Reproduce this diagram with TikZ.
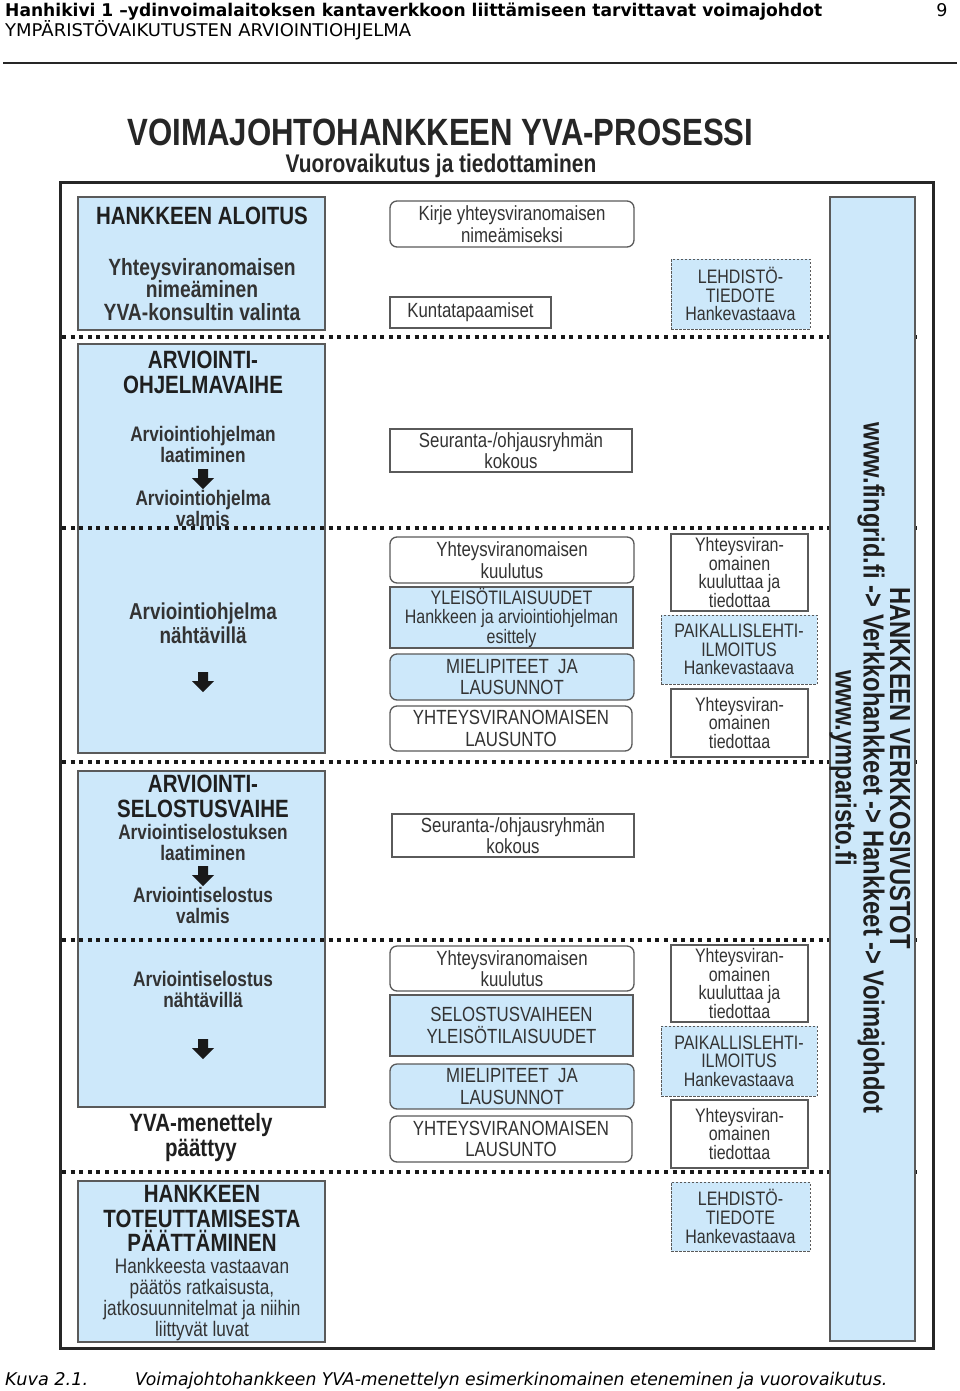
\documentclass[tikz,border=0pt]{standalone}
\usepackage{fontspec}
\usepackage{graphicx}
\setmainfont{Liberation Sans}
\newfontfamily\nar[FakeStretch=0.82]{Liberation Sans}
\newfontfamily\hdr{DejaVu Sans}
\newcommand\fs[2]{\fontsize{#1}{#2}\selectfont}
\definecolor{boxblue}{HTML}{CDE8FA}
\definecolor{edge}{HTML}{5A5A5A}
\definecolor{txt}{HTML}{333333}
\newcommand\dnarrow[2]{\fill[black!90] (#1-5,#2-10) -- (#1+5,#2-10) -- (#1+5,#2-1) -- (#1+11,#2-1) -- (#1,#2+10) -- (#1-11,#2-1) -- (#1-5,#2-1) -- cycle;}
\tikzset{
  lbox/.style={draw=edge, line width=1.2pt, fill=boxblue, minimum width=247pt, inner sep=0pt},
  lhead/.style={font=\nar\bfseries\fs{25}{25}, text=black!88, align=center, inner sep=0pt},
  lsub/.style={font=\nar\bfseries\fs{21}{21}, text=txt, align=center, inner sep=0pt},
  mbase/.style={draw=edge, line width=1.3pt, text=txt, align=center, inner sep=0pt, font=\nar\fs{20.5}{21.5}},
  mplain/.style={mbase, fill=white},
  mround/.style={mbase, fill=white, rounded corners=7pt},
  mblue/.style={mbase, fill=boxblue},
  mblueround/.style={mbase, fill=boxblue, rounded corners=7pt},
  rplain/.style={draw=edge, line width=1.3pt, fill=white, text=txt, align=center, inner sep=0pt, font=\nar\fs{19.5}{18.7}, minimum width=137pt},
  rdash/.style={draw=edge, line width=1pt, dash pattern=on 2.5pt off 1.5pt, fill=boxblue, text=txt, align=center, inner sep=0pt, font=\nar\fs{19.5}{18.7}},
  dotsep/.style={line width=4pt, dash pattern=on 4pt off 4.6pt, black!90}
}
\begin{document}
\begin{tikzpicture}[x=1pt,y=-1pt]
\useasboundingbox (0,0) rectangle (960,1391);
\fill[white] (0,0) rectangle (960,1391);
% page header
\node[anchor=base west, inner sep=0pt] (h1) at (5,17) {\resizebox{817pt}{\height}{\hdr\bfseries\fs{17.5}{17.5}Hanhikivi 1 –ydinvoimalaitoksen kantaverkkoon liittämiseen tarvittavat voimajohdot}};
\node[anchor=base west, inner sep=0pt] (h2) at (5,37) {\resizebox{406pt}{\height}{\hdr\fs{17.5}{17.5}YMPÄRISTÖVAIKUTUSTEN ARVIOINTIOHJELMA}};
\node[anchor=base, inner sep=0pt] (pg) at (942,17) {\hdr\fs{17.5}{17.5}9};
\draw[line width=2pt, black!85] (3,63) -- (957,63);
% title
\node[anchor=base, inner sep=0pt, font=\nar\bfseries\fs{38}{38}, text=black!85] (title) at (440.5,146) {VOIMAJOHTOHANKKEEN YVA-PROSESSI};
\node[anchor=base, inner sep=0pt, font=\nar\bfseries\fs{25.5}{25.5}, text=black!85] (subtitle) at (441,173) {Vuorovaikutus ja tiedottaminen};
% frame
\draw[line width=3pt, black!85] (60,183) rectangle (933,1348);
% left boxes
\node[lbox, minimum height=133pt] (lb1) at (201.5,263.5) {};
\node[lbox, minimum height=409pt] (lb2) at (201.5,548.5) {};
\node[lbox, minimum height=336pt] (lb3) at (201.5,939) {};
\node[lbox, minimum height=161pt] (lb4) at (201.5,1261.5) {};
% dotted separators (they cross the phase boxes)
\foreach \yy in {337,528,762,940,1172} \draw[dotsep] (62,\yy) -- (921,\yy);
% right column (on top of the separators)
\node[draw=edge, line width=1.2pt, fill=boxblue, minimum width=85pt, minimum height=1144pt, inner sep=0pt] (col) at (872.5,769) {};
\node[rotate=-90, font=\nar\bfseries\fs{29}{26.5}, align=center, text=black!88, inner sep=0pt] (web) at (870,768) {HANKKEEN VERKKOSIVUSTOT\\www.fingrid.fi -> Verkkohankkeet -> Hankkeet -> Voimajohdot\\www.ymparisto.fi};
% left texts
\node[lhead] (t1a) at (202,216) {HANKKEEN ALOITUS};
\node[lsub, font=\nar\bfseries\fs{23.5}{22.5}] (t1b) at (202,289.5) {Yhteysviranomaisen\\nimeäminen\\YVA-konsultin valinta};
\node[lhead] (t2a) at (203,372.5) {ARVIOINTI-\\OHJELMAVAIHE};
\node[lsub] (t2b) at (203,444.5) {Arviointiohjelman\\laatiminen};
\dnarrow{203}{479}
\node[lsub] (t2c) at (203,508.5) {Arviointiohjelma\\valmis};
\node[lsub, font=\nar\bfseries\fs{23}{24}] (t2d) at (203,623) {Arviointiohjelma\\nähtävillä};
\dnarrow{203}{682}
\node[lhead] (t3a) at (203,796.5) {ARVIOINTI-\\SELOSTUSVAIHE};
\node[lsub] (t3b) at (203,842.5) {Arviointiselostuksen\\laatiminen};
\dnarrow{203}{876}
\node[lsub] (t3c) at (203,905.5) {Arviointiselostus\\valmis};
\node[lsub] (t3d) at (203,989.5) {Arviointiselostus\\nähtävillä};
\dnarrow{203}{1049}
\node[lhead] (t3e) at (201,1137.5) {YVA-menettely\\päättyy};
\node[lhead, font=\nar\bfseries\fs{25}{24.5}] (t4a) at (202,1218.5) {HANKKEEN\\TOTEUTTAMISESTA\\PÄÄTTÄMINEN};
\node[lsub, font=\nar\fs{21}{21}] (t4b) at (202,1299.5) {Hankkeesta vastaavan\\päätös ratkaisusta,\\jatkosuunnitelmat ja niihin\\liittyvät luvat};
% middle column
\node[mround, minimum width=244pt, minimum height=46pt] (m1) at (512,224) {Kirje yhteysviranomaisen\\nimeämiseksi};
\node[mplain, minimum width=161pt, minimum height=31pt] (m2) at (470.5,312.5) {Kuntatapaamiset};
\node[mplain, minimum width=242pt, minimum height=43pt] (m3) at (511,450.5) {Seuranta-/ohjausryhmän\\kokous};
\node[mround, minimum width=244pt, minimum height=46pt] (m4) at (512,560) {Yhteysviranomaisen\\kuulutus};
\node[mblue, minimum width=243pt, minimum height=61pt, font=\nar\fs{19.5}{19.5}] (m5) at (511.5,617.5) {YLEISÖTILAISUUDET\\Hankkeen ja arviointiohjelman\\esittely};
\node[mblueround, minimum width=244pt, minimum height=46pt] (m6) at (512,677) {MIELIPITEET\ \ JA\\LAUSUNNOT};
\node[mround, minimum width=242pt, minimum height=45pt] (m7) at (511,728.5) {YHTEYSVIRANOMAISEN\\LAUSUNTO};
\node[mplain, minimum width=242pt, minimum height=43pt] (m8) at (513,835.5) {Seuranta-/ohjausryhmän\\kokous};
\node[mround, minimum width=244pt, minimum height=45pt] (m9) at (512,968.5) {Yhteysviranomaisen\\kuulutus};
\node[mblue, minimum width=243pt, minimum height=61pt] (m10) at (511.5,1025.5) {SELOSTUSVAIHEEN\\YLEISÖTILAISUUDET};
\node[mblueround, minimum width=244pt, minimum height=45pt] (m11) at (512,1086.5) {MIELIPITEET\ \ JA\\LAUSUNNOT};
\node[mround, minimum width=242pt, minimum height=46pt] (m12) at (511,1139) {YHTEYSVIRANOMAISEN\\LAUSUNTO};
% right column boxes
\node[rdash, minimum width=139pt, minimum height=70pt] (r1) at (740.5,294) {LEHDISTÖ-\\TIEDOTE\\Hankevastaava};
\node[rplain, minimum height=77pt] (r2) at (739.5,572.5) {Yhteysviran-\\omainen\\kuuluttaa ja\\tiedottaa};
\node[rdash, minimum width=156pt, minimum height=69pt] (r3) at (739,649.5) {PAIKALLISLEHTI-\\ILMOITUS\\Hankevastaava};
\node[rplain, minimum height=68pt] (r4) at (739.5,723) {Yhteysviran-\\omainen\\tiedottaa};
\node[rplain, minimum height=77pt] (r5) at (739.5,983.5) {Yhteysviran-\\omainen\\kuuluttaa ja\\tiedottaa};
\node[rdash, minimum width=156pt, minimum height=70pt] (r6) at (739,1061) {PAIKALLISLEHTI-\\ILMOITUS\\Hankevastaava};
\node[rplain, minimum height=68pt] (r7) at (739.5,1134) {Yhteysviran-\\omainen\\tiedottaa};
\node[rdash, minimum width=139pt, minimum height=69pt] (r8) at (740.5,1216.5) {LEHDISTÖ-\\TIEDOTE\\Hankevastaava};
% caption
\node[anchor=base west, inner sep=0pt] (cap1) at (5,1385) {\resizebox{83pt}{\height}{\hdr\itshape\fs{17.5}{17.5}Kuva 2.1.}};
\node[anchor=base west, inner sep=0pt] (cap2) at (135,1385) {\resizebox{752pt}{\height}{\hdr\itshape\fs{17.5}{17.5}Voimajohtohankkeen YVA-menettelyn esimerkinomainen eteneminen ja vuorovaikutus.}};
\end{tikzpicture}
\end{document}
